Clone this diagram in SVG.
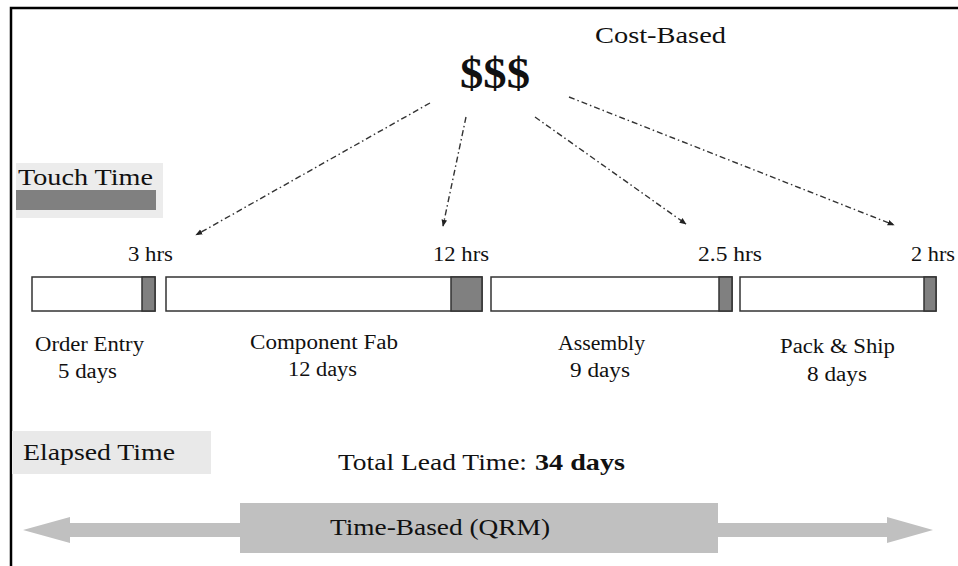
<svg xmlns="http://www.w3.org/2000/svg" width="958" height="566" viewBox="0 0 958 566">
<style>
text{font-family:"Liberation Serif","Times New Roman",serif;fill:#111;}
.t{font-size:20px;}
.big{font-size:23px;}
.bar{fill:#fff;stroke:#333;stroke-width:1.5;}
.touch{fill:#808080;stroke:#333;stroke-width:1.5;}
.conn{fill:none;stroke:#333;stroke-width:1.4;stroke-dasharray:6 3 1.5 3;marker-end:url(#ah);}
.band{fill:#c0c0c0;}
</style>
<defs>
<marker id="ah" viewBox="0 0 10 10" refX="9" refY="5" markerWidth="7" markerHeight="7" markerUnits="userSpaceOnUse" orient="auto">
<path d="M0,1 L10,5 L0,9 z" fill="#222"/>
</marker>
</defs>
<rect width="958" height="566" fill="#fff"/>
<path d="M11,566 V8 H958" fill="none" stroke="#000" stroke-width="2.5"/>

<g id="cost-based">
<text x="595" y="43" class="big" textLength="131" lengthAdjust="spacingAndGlyphs">Cost-Based</text>
<text x="460" y="88" font-size="44" font-weight="bold" textLength="70" lengthAdjust="spacingAndGlyphs">$$$</text>
</g>

<g id="touch-time-legend">
<rect x="16" y="163" width="147" height="55" fill="#ececec"/>
<rect x="16" y="190" width="140" height="20" fill="#808080"/>
<text x="18" y="185" class="big" textLength="135" lengthAdjust="spacingAndGlyphs">Touch Time</text>
</g>

<g id="order-entry">
<rect x="32" y="277" width="123" height="34" class="bar"/>
<rect x="142" y="277" width="13" height="34" class="touch"/>
<text x="128" y="261" class="t" textLength="45" lengthAdjust="spacingAndGlyphs">3 hrs</text>
<text x="35" y="351" class="t" textLength="109" lengthAdjust="spacingAndGlyphs">Order Entry</text>
<text x="58" y="378" class="t" textLength="59" lengthAdjust="spacingAndGlyphs">5 days</text>
</g>

<g id="component-fab">
<rect x="166" y="277" width="316" height="34" class="bar"/>
<rect x="451" y="277" width="31" height="34" class="touch"/>
<text x="433" y="261" class="t" textLength="56" lengthAdjust="spacingAndGlyphs">12 hrs</text>
<text x="250" y="349" class="t" textLength="148" lengthAdjust="spacingAndGlyphs">Component Fab</text>
<text x="288" y="376" class="t" textLength="69" lengthAdjust="spacingAndGlyphs">12 days</text>
</g>

<g id="assembly">
<rect x="491" y="277" width="241" height="34" class="bar"/>
<rect x="719" y="277" width="13" height="34" class="touch"/>
<text x="698" y="261" class="t" textLength="64" lengthAdjust="spacingAndGlyphs">2.5 hrs</text>
<text x="558" y="350" class="t" textLength="87" lengthAdjust="spacingAndGlyphs">Assembly</text>
<text x="570" y="377" class="t" textLength="60" lengthAdjust="spacingAndGlyphs">9 days</text>
</g>

<g id="pack-ship">
<rect x="740" y="277" width="196" height="34" class="bar"/>
<rect x="924" y="277" width="12" height="34" class="touch"/>
<text x="911" y="261" class="t" textLength="44" lengthAdjust="spacingAndGlyphs">2 hrs</text>
<text x="780" y="353" class="t" textLength="115" lengthAdjust="spacingAndGlyphs">Pack &amp; Ship</text>
<text x="807" y="381" class="t" textLength="60" lengthAdjust="spacingAndGlyphs">8 days</text>
</g>

<g id="elapsed-time">
<rect x="12" y="431" width="199" height="43" fill="#e9e9e9"/>
<text x="23" y="460" class="big" textLength="152" lengthAdjust="spacingAndGlyphs">Elapsed Time</text>
</g>

<g id="total-lead-time">
<text x="338" y="470" class="big" textLength="189" lengthAdjust="spacingAndGlyphs">Total Lead Time:</text>
<text x="535" y="470" class="big" font-weight="bold" textLength="90" lengthAdjust="spacingAndGlyphs">34 days</text>
</g>

<g id="time-based">
<path class="band" d="M23,530 L70,517 L70,523 L240,523 L240,503 L718,503 L718,523 L887,523 L887,517 L933,530 L887,543 L887,537 L718,537 L718,553 L240,553 L240,537 L70,537 L70,543 Z"/>
<text x="330" y="535" class="big" textLength="220" lengthAdjust="spacingAndGlyphs">Time-Based (QRM)</text>
</g>

<g id="connectors">
<path class="conn" d="M430,103 L196,235"/>
<path class="conn" d="M466,117 L443,226"/>
<path class="conn" d="M535,117 L686,224"/>
<path class="conn" d="M569,97 L894,225"/>
</g>
</svg>
